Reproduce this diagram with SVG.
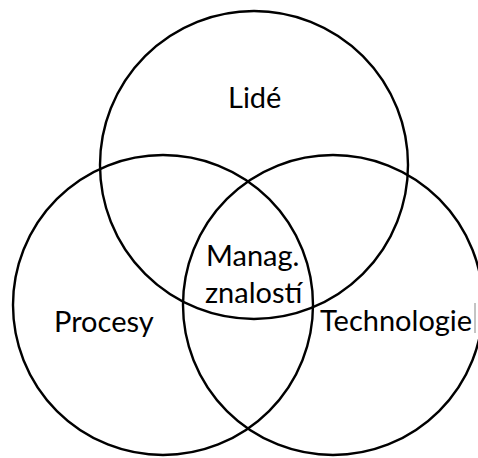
<svg xmlns="http://www.w3.org/2000/svg" width="478" height="458" viewBox="0 0 478 458">
<style>
.c{fill:none;stroke:#000;stroke-width:2.4}
.t{font-family:Lato,"Liberation Sans",sans-serif;font-size:29px;fill:#000}
</style>
<rect width="478" height="458" fill="#fff"/>
<g id="lide"><circle class="c" cx="254" cy="165" r="154"/><text class="t" x="228" y="108">Lidé</text></g>
<g id="procesy"><circle class="c" cx="163" cy="305" r="150"/><text class="t" x="54" y="332">Procesy</text></g>
<g id="technologie"><circle class="c" cx="333" cy="305" r="150"/><text class="t" x="320" y="331">Technologie</text></g>
<g id="manag"><text class="t" x="206" y="266">Manag.</text><text class="t" x="205" y="303">znalostí</text></g>
<line x1="475" y1="303" x2="475" y2="333" stroke="#888" stroke-width="1"/>
</svg>
